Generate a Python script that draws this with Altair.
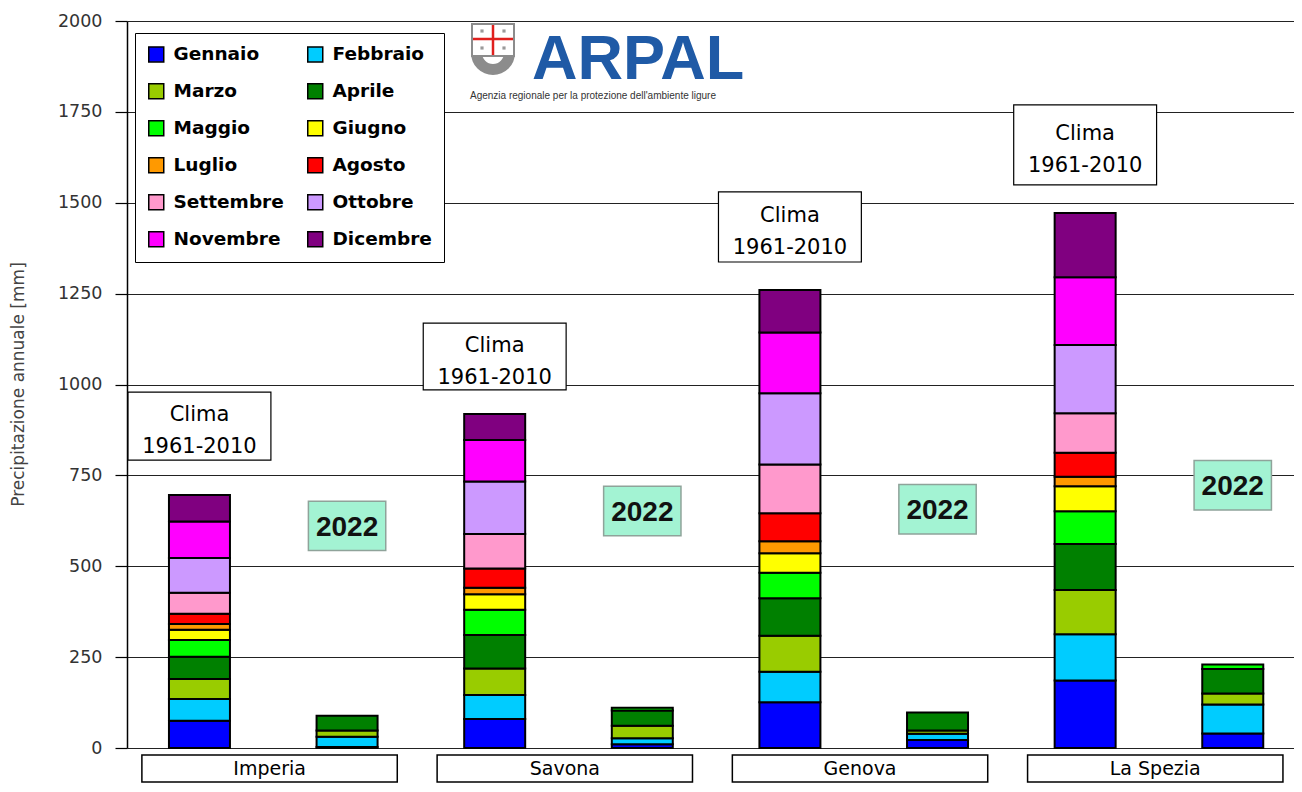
import math
import altair as alt
import pandas as pd

# ---------------- data ----------------
months = ["Gennaio", "Febbraio", "Marzo", "Aprile", "Maggio", "Giugno",
          "Luglio", "Agosto", "Settembre", "Ottobre", "Novembre", "Dicembre"]
month_colors = ["#0000FF", "#00CCFF", "#99CC00", "#008000", "#00FF00", "#FFFF00",
                "#FF9900", "#FF0000", "#FF99CC", "#CC99FF", "#FF00FF", "#800080"]
stations = ["Imperia", "Savona", "Genova", "La Spezia"]
periods = ["Clima 1961-2010", "2022"]

# climate 1961-2010 monthly precipitation [mm]
clima_imperia = [75, 60, 55, 61, 46, 28, 16, 28, 58, 96, 100, 73]
clima_savona = [80, 66, 73, 92, 69, 43, 18, 53, 95, 144, 114, 72]
clima_genova = [126, 84, 99, 103, 70, 54, 33, 77, 134, 196, 167, 117]
clima_laspezia = [186, 127, 122, 126, 90, 69, 26, 66, 109, 188, 186, 177]

# 2022 monthly precipitation [mm] (Gennaio..Maggio)
y2022_imperia = [3, 28, 17, 41, 0]
y2022_savona = [10, 17, 34, 42, 8]
y2022_genova = [22, 17, 9, 50, 0]
y2022_laspezia = [40, 80, 30, 67, 13]

# annotation anchors [mm]
clima_box_bottom = [792, 985, 1337, 1549]
clima_box_top = [979, 1169, 1530, 1769]
label2022_center = [611, 652, 657, 723]

y_ticks = [0, 250, 500, 750, 1000, 1250, 1500, 1750, 2000]

clima_series = [clima_imperia, clima_savona, clima_genova, clima_laspezia]
series_2022 = [y2022_imperia, y2022_savona, y2022_genova, y2022_laspezia]

rows = []
for s, name in enumerate(stations):
    for p, series in enumerate([clima_series[s], series_2022[s]]):
        for m, v in enumerate(series):
            if v > 0:
                rows.append(dict(station=name, period=periods[p], pos=2 * s + p,
                                 month=months[m], idx=m, value=v))
df = pd.DataFrame(rows)

clima_pos = [2 * s for s in range(len(stations))]
y22_pos = [2 * s + 1 for s in range(len(stations))]

# legend is filled column by column: order the domain so it reads row by row
legend_order = months[0::2] + months[1::2]
legend_colors = [month_colors[months.index(m)] for m in legend_order]

# ---------------- scales / axes ----------------
xscale = alt.Scale(domain=[-0.457, 7.381], nice=False, zero=False)
yscale = alt.Scale(domain=[0, 2000], nice=False, zero=True)

FONT = "DejaVu Sans"
YTITLE = "Precipitazione annuale [mm]"

yaxis = alt.Axis(values=y_ticks, format="d", title=YTITLE,
                 titleFont=FONT, titleFontSize=17, titleFontWeight="normal",
                 titleColor="#444", titleX=-109, titleY=363,
                 titleAngle=-90, titleAlign="center", titleBaseline="middle",
                 labelFont=FONT, labelFontSize=17.5, labelColor="#333",
                 labelPadding=13, tickSize=12, tickColor="black", tickWidth=1.2,
                 domainColor="black", domainWidth=1.5,
                 grid=True, gridColor="#222", gridWidth=1.2)


def Y(field):
    return alt.Y(field, scale=yscale, axis=yaxis, title=YTITLE)


bars = alt.Chart(df).mark_bar(size=61, stroke="black", strokeWidth=2).encode(
    x=alt.X("pos:Q", scale=xscale, axis=None),
    y=alt.Y("value:Q", stack="zero", scale=yscale, axis=yaxis, title=YTITLE),
    color=alt.Color("month:N", scale=alt.Scale(domain=legend_order, range=legend_colors),
                    sort=legend_order,
                    legend=alt.Legend(orient="none", legendX=8, legendY=12, columns=2,
                                      title=None, symbolType="square", symbolSize=225,
                                      symbolStrokeColor="black", symbolStrokeWidth=1.5,
                                      labelFont=FONT, labelFontSize=18.5,
                                      labelFontWeight="bold", labelColor="black",
                                      labelOffset=8, labelLimit=300,
                                      rowPadding=15, columnPadding=20, padding=12,
                                      strokeColor="black", fillColor="white")),
    order=alt.Order("idx:Q", sort="ascending"),
    tooltip=["station:N", "period:N", "month:N", "value:Q"],
)

# "Clima 1961-2010" boxes
clima_df = pd.DataFrame({"pos": clima_pos, "bottom": clima_box_bottom, "top": clima_box_top})
clima_base = alt.Chart(clima_df).transform_calculate(
    x0="datum.pos - 0.484", x1="datum.pos + 0.484", yc="(datum.bottom + datum.top) / 2")
clima_rect = clima_base.mark_rect(fill="white", stroke="black", strokeWidth=1.2).encode(
    x=alt.X("x0:Q", scale=xscale, axis=None), x2="x1:Q",
    y=Y("bottom:Q"), y2="top:Q")
clima_text = clima_base.mark_text(text=["Clima", "1961-2010"], font=FONT, fontSize=21,
                                  lineHeight=32, baseline="middle", align="center",
                                  color="black", dy=-11).encode(
    x=alt.X("pos:Q", scale=xscale, axis=None),
    y=Y("yc:Q"))

# "2022" labels
y22_df = pd.DataFrame({"pos": y22_pos, "center": label2022_center})
y22_base = alt.Chart(y22_df).transform_calculate(
    x0="datum.pos - 0.262", x1="datum.pos + 0.262",
    b="datum.center - 68", t="datum.center + 68")
y22_rect = y22_base.mark_rect(fill="#A3F3D3", stroke="#8FA39A", strokeWidth=1.5).encode(
    x=alt.X("x0:Q", scale=xscale, axis=None), x2="x1:Q",
    y=Y("b:Q"), y2="t:Q")
y22_text = y22_base.mark_text(text="2022", font="Liberation Sans", fontWeight="bold",
                              fontSize=28, baseline="middle", align="center",
                              color="#111", dy=2).encode(
    x=alt.X("pos:Q", scale=xscale, axis=None),
    y=Y("center:Q"))

# station name boxes under the axis
cat_df = pd.DataFrame({"station": stations, "pos": clima_pos})
cat_base = alt.Chart(cat_df).transform_calculate(
    x0="datum.pos - 0.39", x1="datum.pos + 1.34", xc="datum.pos + 0.475")
cat_rect = cat_base.mark_rect(fill="white", stroke="black", strokeWidth=1.5).encode(
    x=alt.X("x0:Q", scale=xscale, axis=None), x2="x1:Q",
    y=alt.value(734), y2=alt.value(761))
cat_text = cat_base.mark_text(font=FONT, fontSize=19, baseline="middle", align="center",
                              color="black").encode(
    x=alt.X("xc:Q", scale=xscale, axis=None), y=alt.value(748), text="station:N")

# ARPAL logo
one = pd.DataFrame({"a": [0]})
logo_arc = alt.Chart(one).mark_arc(theta=math.pi / 2, theta2=3 * math.pi / 2,
                                   innerRadius=11, outerRadius=22, color="#8C8C8C").encode(
    x=alt.value(366), y=alt.value(32))
logo_sq = alt.Chart(one).mark_rect(fill="white", stroke="#8C8C8C", strokeWidth=2).encode(
    x=alt.value(345), x2=alt.value(387), y=alt.value(3), y2=alt.value(35))
logo_v = alt.Chart(one).mark_rule(color="#E0201E", strokeWidth=2.5).encode(
    x=alt.value(366), y=alt.value(4), y2=alt.value(34))
logo_h = alt.Chart(one).mark_rule(color="#E0201E", strokeWidth=2.5).encode(
    x=alt.value(346), x2=alt.value(386), y=alt.value(18))
dots = []
for dx, dy in [(355, 10), (377, 10), (355, 27), (377, 27)]:
    dots.append(alt.Chart(one).mark_square(size=10, color="#9A9A9A", opacity=1).encode(
        x=alt.value(dx), y=alt.value(dy)))
logo_text = alt.Chart(one).mark_text(text="ARPAL", font="Liberation Sans", fontWeight="bold",
                                     fontSize=63, align="left", baseline="alphabetic",
                                     color="#1F5AA6").encode(x=alt.value(405), y=alt.value(58))
logo_sub = alt.Chart(one).mark_text(text="Agenzia regionale per la protezione dell'ambiente ligure",
                                    font="Liberation Sans", fontSize=10, align="left",
                                    baseline="middle", color="#333").encode(
    x=alt.value(343), y=alt.value(75))

chart = alt.layer(
    bars, clima_rect, clima_text, y22_rect, y22_text, cat_rect, cat_text,
    logo_arc, logo_sq, logo_v, logo_h, *dots, logo_text, logo_sub,
).properties(
    width=1167, height=727,
    autosize=alt.AutoSizeParams(type="none"),
    padding={"left": 119, "top": 13, "right": 0, "bottom": 36},
).configure_view(strokeWidth=0)

chart.save("out.html", embed_options={"renderer": "svg", "actions": False})
